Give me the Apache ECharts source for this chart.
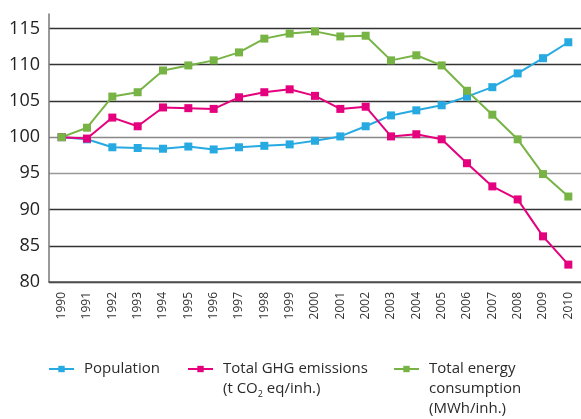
<!DOCTYPE html>
<html lang="en">
<head>
    <meta charset="UTF-8">
    <title>Population, GHG emissions and energy consumption</title>
    <script src="https://cdn.jsdelivr.net/npm/echarts@6/dist/echarts.min.js"></script>
    <style>
        html, body { margin: 0; padding: 0; background: #fff; }
        #chart { width: 581px; height: 419px; }
    </style>
</head>
<body>
    <div id="chart"></div>

    <script>
        // index, 1990 = 100
        var years = ['1990', '1991', '1992', '1993', '1994', '1995', '1996', '1997', '1998', '1999', '2000',
            '2001', '2002', '2003', '2004', '2005', '2006', '2007', '2008', '2009', '2010'];
        var population = [100, 99.7, 98.6, 98.5, 98.4, 98.7, 98.3, 98.6, 98.8, 99.0, 99.5,
            100.1, 101.5, 103.0, 103.7, 104.4, 105.6, 106.9, 108.8, 110.9, 113.1];
        var ghg = [100, 99.8, 102.7, 101.5, 104.1, 104.0, 103.9, 105.5, 106.2, 106.6, 105.7,
            103.9, 104.2, 100.1, 100.4, 99.7, 96.4, 93.2, 91.4, 86.3, 82.4];
        var energy = [100, 101.3, 105.6, 106.2, 109.2, 109.9, 110.6, 111.7, 113.6, 114.3, 114.6,
            113.9, 114.0, 110.6, 111.3, 109.9, 106.4, 103.1, 99.7, 94.9, 91.8];

        var names = ['Population', 'Total GHG emissions', 'Total energy consumption'];
        var colors = ['#27aae1', '#e5007d', '#78b445'];

        var labelText = {
            'Population': 'Population',
            'Total GHG emissions': 'Total GHG emissions\n(t CO{sub|2} eq/inh.)',
            'Total energy consumption': 'Total energy\nconsumption\n(MWh/inh.)'
        };

        function legendFor(name, left, top, padTop) {
            return {
                data: [name],
                left: left,
                top: top,
                padding: 0,
                itemWidth: 25,
                itemHeight: 8,
                itemGap: 10,
                formatter: function (n) { return labelText[n]; },
                textStyle: {
                    fontFamily: 'Open Sans',
                    fontSize: 15,
                    color: '#2a2a2a',
                    lineHeight: 20,
                    padding: [padTop, 0, 0, 5],
                    rich: {
                        sub: { fontSize: 9, fontFamily: 'Open Sans', color: '#2a2a2a', verticalAlign: 'bottom', padding: [12, 0, 0, 0] }
                    }
                }
            };
        }

        function lineSeries(name, data, color) {
            return {
                name: name,
                type: 'line',
                data: data,
                symbol: 'rect',
                symbolSize: 8,
                color: color,
                lineStyle: { width: 2, color: color },
                itemStyle: { color: color },
                z: 3
            };
        }

        var chart = echarts.init(document.getElementById('chart'));
        chart.setOption({
            animation: false,
            backgroundColor: '#fff',
            grid: { left: 49, right: -1, top: 14, bottom: 137 },
            legend: [
                legendFor(names[0], 48, 359, 0),
                legendFor(names[1], 187, 339, 20),
                legendFor(names[2], 393, 319, 40)
            ],
            xAxis: {
                type: 'category',
                data: years,
                boundaryGap: true,
                axisLine: { lineStyle: { color: '#555', width: 1.5 } },
                axisTick: { inside: true, length: 6, lineStyle: { color: '#444', width: 1 } },
                axisLabel: {
                    rotate: 90,
                    margin: 10,
                    fontSize: 12,
                    fontFamily: 'Open Sans',
                    color: '#333',
                    interval: 0
                },
                splitLine: { show: false }
            },
            yAxis: {
                type: 'value',
                min: 80,
                max: 117,
                interval: 5,
                axisLine: { show: true, lineStyle: { color: '#777', width: 1.5 } },
                axisTick: { show: false },
                axisLabel: {
                    margin: 9,
                    fontSize: 18,
                    fontFamily: 'Open Sans',
                    color: '#222',
                    showMaxLabel: false,
                    formatter: function (v) { return v % 5 === 0 ? String(v) : ''; }
                },
                splitLine: {
                    show: true,
                    lineStyle: {
                        width: 1.3,
                        color: ['#333', '#333', '#333', '#999', '#888', '#333', '#333', '#333', 'rgba(0,0,0,0)']
                    }
                }
            },
            series: [
                lineSeries(names[0], population, colors[0]),
                lineSeries(names[1], ghg, colors[1]),
                lineSeries(names[2], energy, colors[2])
            ]
        });
    </script>
</body>
</html>
